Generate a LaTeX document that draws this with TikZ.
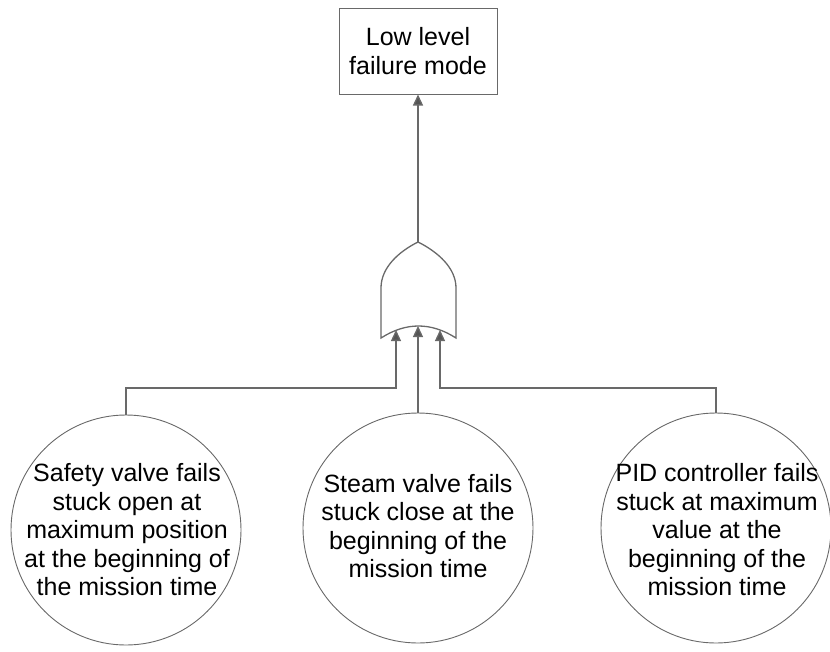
\documentclass[tikz,border=0pt]{standalone}
\usepackage{fontspec}
\setmainfont{Liberation Sans}
\usetikzlibrary{arrows.meta}
\definecolor{linegray}{RGB}{105,105,105}
\definecolor{tipgray}{RGB}{85,85,85}
\begin{document}
\begin{tikzpicture}[x=1pt,y=-1pt,
  conn/.style={draw=linegray, line width=1.3pt},
  arr/.style={conn, -{Triangle[width=10pt,length=11pt,fill=tipgray]}},
  topbox/.style={draw=linegray, line width=1pt, minimum width=158pt, minimum height=86pt, inner sep=0pt},
  evcircle/.style={draw=linegray, line width=0.9pt, circle, minimum size=230pt, inner sep=0pt},
  evtext/.style={align=center, inner sep=0pt, font=\fontsize{25}{28.5}\selectfont},
  gateshape/.style={draw=linegray, line width=1.3pt, fill=white}
]
\useasboundingbox (0,0) rectangle (830,651);
% top event
\node[topbox] (top) at (418,51) {};
\node[evtext] (toptext) at (top.center) {Low level\\failure mode};
% OR gate
\draw[gateshape] (381,338) -- (381,288) .. controls (381,268) and (398,252) .. (418,242)
  .. controls (438,252) and (456,268) .. (456,288) -- (456,338)
  .. controls (431,322) and (406,322) .. (381,338) -- cycle;
\coordinate (gout) at (418,242);
\coordinate (gin1) at (396,330);
\coordinate (gin2) at (418,326);
\coordinate (gin3) at (440,330);
% events
\node[evcircle] (e1) at (126,530) {};
\node[evcircle] (e2) at (418,528) {};
\node[evcircle] (e3) at (716,528) {};
\node[evtext] (t1) at (127,530) {Safety valve fails\\stuck open at\\maximum position\\at the beginning of\\the mission time};
\node[evtext] (t2) at (418,526) {Steam valve fails\\stuck close at the\\beginning of the\\mission time};
\node[evtext] (t3) at (717,530) {PID controller fails\\stuck at maximum\\value at the\\beginning of the\\mission time};
% connectors
\draw[arr] (gout) -- (top.south);
\draw[arr] (e1.north) |- (396,388) -- (gin1);
\draw[arr] (e2.north) -- (gin2);
\draw[arr] (e3.north) |- (440,388) -- (gin3);
\end{tikzpicture}
\end{document}
